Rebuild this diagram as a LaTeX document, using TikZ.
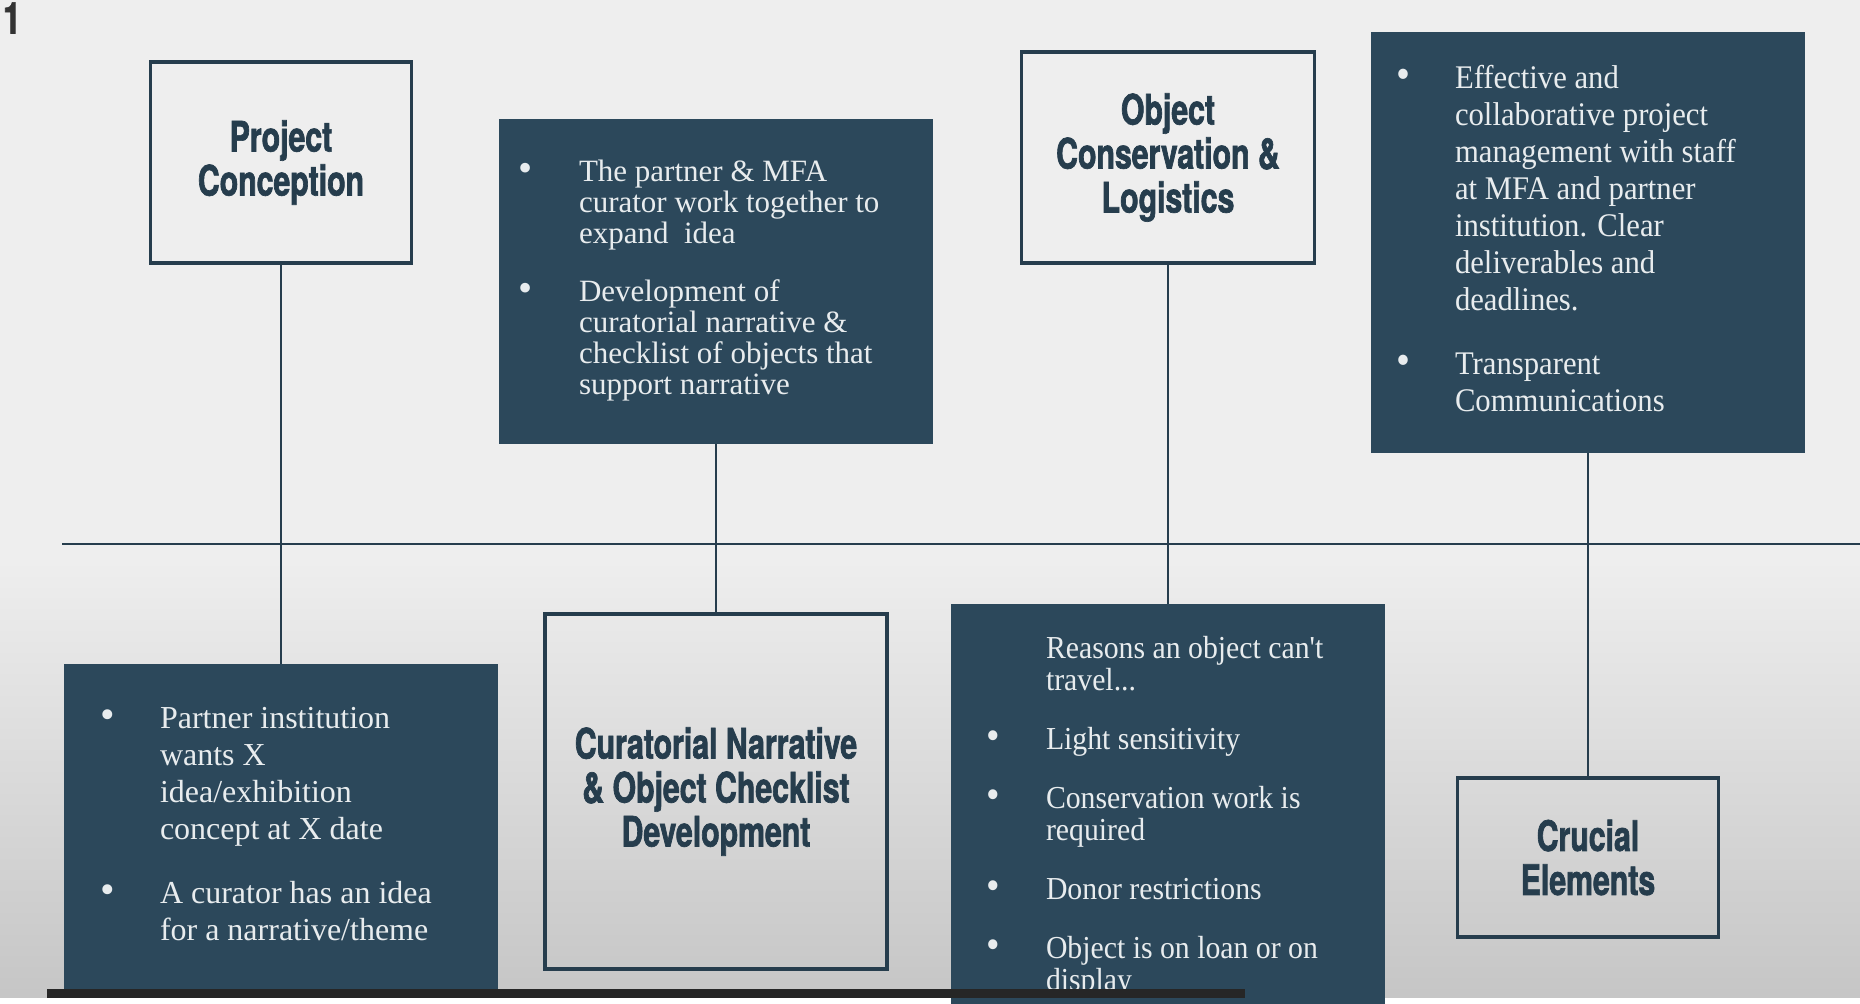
\documentclass[tikz,border=0pt]{standalone}
\usepackage{fontspec}
\setmainfont{Liberation Serif}
\newfontfamily\headfont[FakeStretch=0.72, BoldFeatures={FakeBold=1.6}]{TeX Gyre Heros}
\newfontfamily\narrowserif[FakeStretch=0.93]{Liberation Serif}
\definecolor{slate}{RGB}{44,72,91}
\definecolor{ink}{RGB}{38,61,77}
\definecolor{paper}{RGB}{238,238,238}
\definecolor{notetext}{RGB}{232,236,238}
\newcommand{\dotmark}{\scalebox{1.3}{\textbullet}}
\tikzset{
  titlebox/.style={draw=ink, line width=1.6pt, text=ink, align=center, inner sep=0pt,
    font=\headfont\bfseries\fontsize{21}{22}\selectfont},
  notebox/.style={fill=slate, text=notetext, inner sep=0pt, minimum width=217pt},
  stem/.style={draw=ink, line width=1.2pt}
}
\begin{document}
\begin{tikzpicture}[x=0.5pt,y=-0.5pt]
        \useasboundingbox (0,0) rectangle (1860,1004);
        % background
        \fill[paper] (0,0) rectangle (1860,1004);
        \shade[top color=paper, bottom color=gray!45!white] (0,560) rectangle (1860,998);
        \fill[white] (0,998) rectangle (1860,1004);
        \node[text=black!80, inner sep=0pt, font=\headfont\bfseries\fontsize{22}{22}\selectfont] (num) at (12,18) {1};
        \begin{scope}[every node/.style={titlebox}]
            \node [minimum width=130.5pt, minimum height=100.5pt](A) at (281,162.5) {Project\\Conception};
            \node [minimum width=146.5pt, minimum height=105.5pt](C) at (1168,157.5) {Object\\Conservation \&\\Logistics};
            \node [minimum width=171pt, minimum height=177.5pt](F) at (716,791.5) {Curatorial Narrative\\\& Object Checklist\\Development};
            \node [minimum width=130.5pt, minimum height=79.5pt](H) at (1588,857.5) {Crucial\\Elements};
        \end{scope}
        \begin{scope}[every node/.style={notebox}]
            \node [minimum height=162.5pt, font=\fontsize{15.5}{15.5}\selectfont](B) at (716,281.5) {%
              \begin{tabular}{@{}p{30.5pt}@{}p{167.5pt}@{}}
              \dotmark & The partner \& MFA\\
                       & curator work together to\\
                       & expand\ \ idea\\[13.5pt]
              \dotmark & Development of\\
                       & curatorial narrative \&\\
                       & checklist of objects that\\
                       & support narrative
              \end{tabular}};
            \node [minimum height=210.5pt, font=\narrowserif\fontsize{16.5}{18.5}\selectfont](D) at (1588,242.5) {%
              \begin{tabular}{@{}p{29.5pt}@{}p{162.5pt}@{}}
              \dotmark & Effective and\\
                       & collaborative project\\
                       & management with staff\\
                       & at MFA and partner\\
                       & institution. Clear\\
                       & deliverables and\\
                       & deadlines.\\[13.5pt]
              \dotmark & Transparent\\
                       & Communications
              \end{tabular}};
            \node [minimum height=163pt, font=\fontsize{16}{18.5}\selectfont](E) at (281,827) {%
              \begin{tabular}{@{}p{30pt}@{}p{151pt}@{}}
              \dotmark & Partner institution\\
                       & wants X\\
                       & idea/exhibition\\
                       & concept at X date\\[13.5pt]
              \dotmark & A curator has an idea\\
                       & for a narrative/theme
              \end{tabular}};
            \node [anchor=north, inner ysep=16pt, font=\narrowserif\fontsize{16}{16}\selectfont](G) at (1168,604) {%
              \begin{tabular}{@{}p{30pt}@{}p{152pt}@{}}
                       & Reasons an object can't\\
                       & travel...\\[13.5pt]
              \dotmark & Light sensitivity\\[13.5pt]
              \dotmark & Conservation work is\\
                       & required\\[13.5pt]
              \dotmark & Donor restrictions\\[13.5pt]
              \dotmark & Object is on loan or on\\
                       & display
              \end{tabular}};
        \end{scope}
        \coordinate (L) at (62,544);
        \coordinate (R) at (1860,544);
        \draw [stem](L) -- (R);
        \draw [stem](A) -- (E); \draw [stem](B) -- (F);
        \draw [stem](C) -- (G); \draw [stem](D) -- (H);
        % player bar along the bottom edge
        \fill[black!85] (47,989) rectangle (1245,998);
\end{tikzpicture}
\end{document}
